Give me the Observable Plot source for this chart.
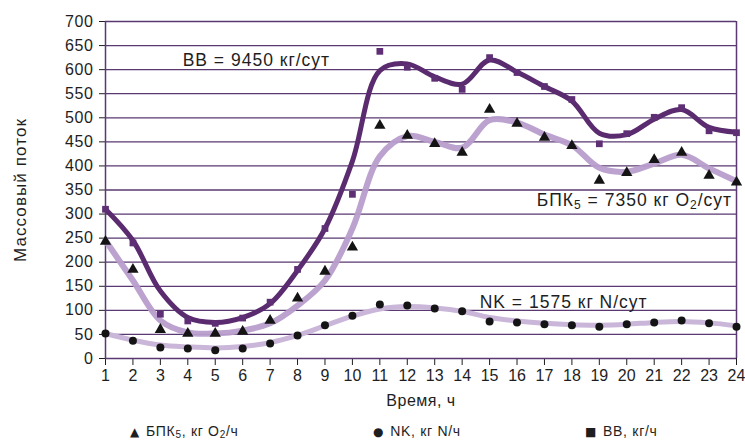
<!DOCTYPE html>
<html><head><meta charset="utf-8">
<script src="https://cdn.jsdelivr.net/npm/d3@7"></script>
<script src="https://cdn.jsdelivr.net/npm/@observablehq/plot@0.6"></script>
<style>
body{margin:0;background:#fff;font-family:"Liberation Sans",Arial,sans-serif;}
#legend{position:relative;width:745px;height:26px;font-size:14px;color:#1e1e1e;letter-spacing:0.7px;}
#legend .item{position:absolute;top:8px;white-space:nowrap;line-height:16px;}
#legend .sym{font-size:12px;margin-right:6px;font-family:"DejaVu Sans",sans-serif;}
sub{font-size:10px;vertical-align:-2px;line-height:0;}
#chart g[aria-label="y-axis tick label"] text{font-size:16px;letter-spacing:0.6px;}
#chart g[aria-label="x-axis tick label"] text{font-size:16px;}
#chart g[aria-label="x-axis label"] text{font-size:16px;letter-spacing:0.5px;}
#chart g[aria-label="y-axis label"] text{font-size:17px;letter-spacing:1.1px;}
#chart g[aria-label="text"] text{font-size:17.5px;letter-spacing:1px;}
</style></head><body>
<div id="chart"></div>
<div id="legend"></div>
<script>
const hours = [1,2,3,4,5,6,7,8,9,10,11,12,13,14,15,16,17,18,19,20,21,22,23,24];
// measured points
const bbValues  = [310,240,92,78,73,84,117,185,270,341,638,605,582,559,625,594,565,538,446,467,501,521,473,469];
const bpkValues = [243,185,60,52,52,56,79,125,181,231,484,463,446,428,517,488,459,442,370,386,413,428,380,366];
const nkValues  = [52,37,23,21,17,21,31,48,69,89,112,110,104,98,77,75,71,69,66,71,75,79,73,66];
// smoothed trend curves
const bbTrend  = [310,245,140,85,75,85,114,183,270,410,598,612,585,570,620,595,565,535,468,465,497,517,480,470];
const bpkTrend = [245,162,79,54,52,58,73,110,162,270,420,462,450,438,495,490,465,443,396,388,405,423,395,368];
const nkTrend  = [52,38,28,24,22,25,33,48,68,88,103,108,105,98,85,78,73,70,69,71,75,77,74,68];
const yTicks = [0,50,100,150,200,250,300,350,400,450,500,550,600,650,700];
const annotations = [
  {hour: 6.5, value: 619, text: "BB = 9450 кг/сут"},
  {hour: 20.28, value: 328, text: "БПК_5 = 7350 кг O_2/сут"},
  {hour: 17.7, value: 116, text: "NK = 1575 кг N/сут"}
];
const legendItems = [
  {sym: "▲", text: "БПК<sub>5</sub>, кг O<sub>2</sub>/ч", left: 130},
  {sym: "●", text: "NK, кг N/ч", left: 373},
  {sym: "■", text: "BB, кг/ч", left: 585}
];

const tbl = (vals) => hours.map((h, i) => ({hour: h, value: vals[i]}));
const grid = "#5a3872";

const chart = Plot.plot({
  width: 745, height: 415,
  marginLeft: 105, marginRight: 9, marginTop: 21, marginBottom: 57,
  style: {fontFamily: '"Liberation Sans", Arial, sans-serif', fontSize: "16px", color: "#1e1e1e", background: "#fff"},
  x: {domain: [1, 24], ticks: hours, tickSize: 7, tickPadding: 4, label: "Время, ч", labelAnchor: "center", labelArrow: false, labelOffset: 47, tickFormat: d => String(d)},
  y: {domain: [0, 700], ticks: yTicks, tickSize: 6, tickPadding: 6, label: "Массовый поток", labelAnchor: "center", labelArrow: false, labelOffset: 92},
  marks: [
    Plot.ruleY(yTicks, {stroke: grid, strokeWidth: 1.3}),
    Plot.ruleX([1, 24], {stroke: grid, strokeWidth: 1.5}),
    Plot.line(tbl(bpkTrend), {x: "hour", y: "value", curve: "catmull-rom", stroke: "#b89dcc", strokeWidth: 6, strokeOpacity: 0.95}),
    Plot.line(tbl(nkTrend), {x: "hour", y: "value", curve: "catmull-rom", stroke: "#c9b6d8", strokeWidth: 5}),
    Plot.line(tbl(bbTrend), {x: "hour", y: "value", curve: "catmull-rom", stroke: "#5b2b70", strokeWidth: 5}),
    Plot.dot(tbl(bpkValues), {x: "hour", y: "value", symbol: "triangle", r: 4.2, fill: "#141414"}),
    Plot.dot(tbl(nkValues), {x: "hour", y: "value", symbol: "circle", r: 4, fill: "#141414"}),
    Plot.dot(tbl(bbValues), {x: "hour", y: "value", symbol: "square", r: 3.8, fill: "#5e2f74"}),
    Plot.text(annotations, {x: "hour", y: "value", text: "text", fontSize: 17.5, fill: "#1e1e1e", textAnchor: "middle"})
  ]
});
document.getElementById("chart").appendChild(chart);

// subscripts in annotation text
d3.select(chart).selectAll("text").each(function() {
  const el = d3.select(this);
  const t = el.text();
  if (t.includes("_")) {
    el.text(null);
    t.split(/(_\d)/).forEach(p => {
      if (!p) return;
      if (p.startsWith("_")) {
        el.append("tspan").attr("font-size", 12).attr("baseline-shift", "-22%").text(p.slice(1));
      } else {
        el.append("tspan").text(p);
      }
    });
  }
});

const leg = document.getElementById("legend");
legendItems.forEach(it => {
  const s = document.createElement("span");
  s.className = "item";
  s.style.left = it.left + "px";
  s.innerHTML = `<span class="sym">${it.sym}</span>${it.text}`;
  leg.appendChild(s);
});
</script>
</body></html>
